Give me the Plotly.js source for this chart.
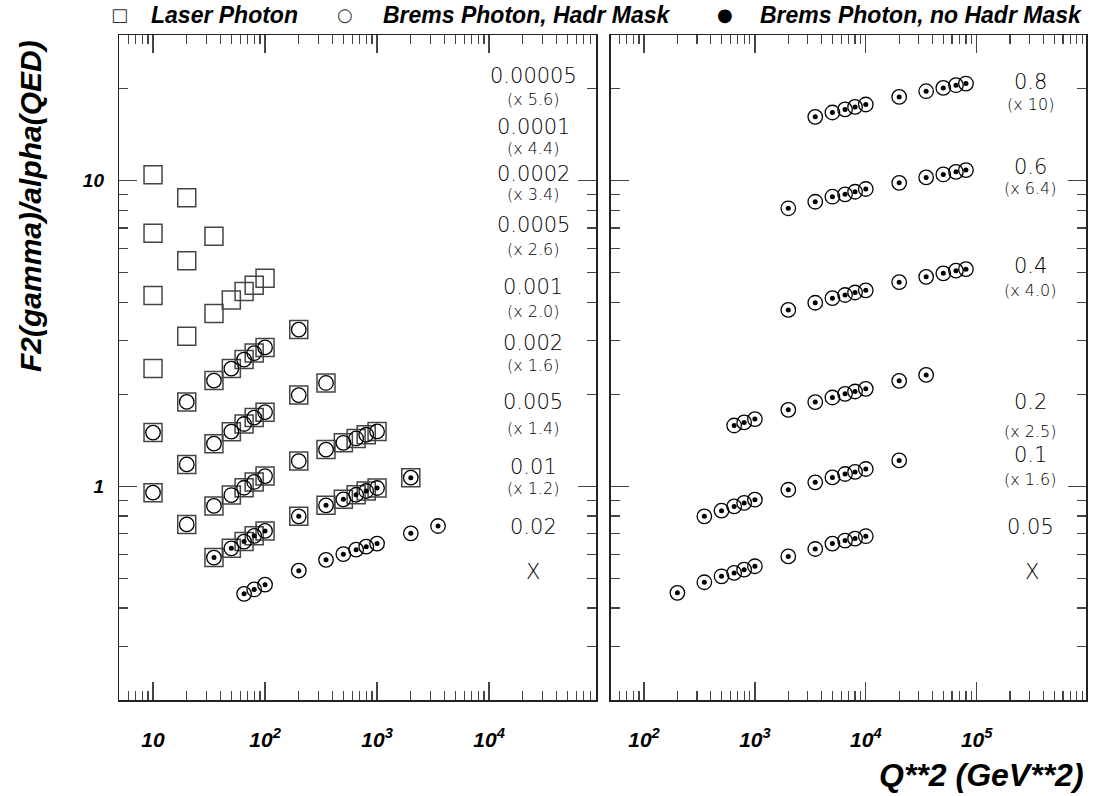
<!DOCTYPE html>
<html>
<head>
<meta charset="utf-8">
<script src="https://cdn.plot.ly/plotly-3.0.1.min.js"></script>
<style>html,body{margin:0;padding:0;background:#fff;}#plot{width:1093px;height:796px;}</style>
</head>
<body>
<div id="plot"></div>
<script>
// ---------------- DATA ----------------
// Left panel: x-bins (label), scale factor label, Q^2 values, F2/alpha values, point type
// type: 'L' laser only, 'LB' laser + brems (hadr mask), 'LN' laser + brems (no hadr mask), 'N' brems (no hadr mask) only
const leftLabels = ['0.00005','0.0001','0.0002','0.0005','0.001','0.002','0.005','0.01','0.02'];
const leftScales = ['(x 5.6)','(x 4.4)','(x 3.4)','(x 2.6)','(x 2.0)','(x 1.6)','(x 1.4)','(x 1.2)',''];

const q2_L1 = [10];
const f2_L1 = [10.46];
const ty_L1 = ['L'];

const q2_L2 = [10, 20];
const f2_L2 = [6.73, 8.80];
const ty_L2 = ['L','L'];

const q2_L3 = [10, 20, 35];
const f2_L3 = [4.21, 5.47, 6.58];
const ty_L3 = ['L','L','L'];

const q2_L4 = [10, 20, 35, 50, 65, 80, 100];
const f2_L4 = [2.43, 3.10, 3.68, 4.07, 4.34, 4.55, 4.80];
const ty_L4 = ['L','L','L','L','L','L','L'];

const q2_L5 = [10, 20, 35, 50, 65, 80, 100, 200];
const f2_L5 = [1.50, 1.89, 2.22, 2.43, 2.60, 2.73, 2.85, 3.26];
const ty_L5 = ['LB','LB','LB','LB','LB','LB','LB','LB'];

const q2_L6 = [10, 20, 35, 50, 65, 80, 100, 200, 350];
const f2_L6 = [0.954, 1.18, 1.38, 1.51, 1.60, 1.68, 1.75, 1.99, 2.18];
const ty_L6 = ['LB','LB','LB','LB','LB','LB','LB','LB','LB'];

const q2_L7 = [20, 35, 50, 65, 80, 100, 200, 350, 500, 650, 800, 1000];
const f2_L7 = [0.751, 0.863, 0.937, 0.990, 1.034, 1.081, 1.21, 1.32, 1.389, 1.435, 1.476, 1.513];
const ty_L7 = ['LB','LB','LB','LB','LB','LB','LB','LB','LB','LB','LB','LB'];

const q2_L8 = [35, 50, 65, 80, 100, 200, 350, 500, 650, 800, 1000, 2000];
const f2_L8 = [0.585, 0.627, 0.660, 0.689, 0.715, 0.798, 0.867, 0.907, 0.939, 0.966, 0.988, 1.068];
const ty_L8 = ['LN','LN','LN','LN','LN','LN','LN','LN','LN','LN','LN','LN'];

const q2_L9 = [65, 80, 100, 200, 350, 500, 650, 800, 1000, 2000, 3500];
const f2_L9 = [0.445, 0.460, 0.477, 0.530, 0.575, 0.600, 0.621, 0.635, 0.650, 0.702, 0.742];
const ty_L9 = ['N','N','N','N','N','N','N','N','N','N','N'];

// Right panel (brems photon, no hadr mask)
const rightLabels = ['0.8','0.6','0.4','0.2','0.1','0.05'];
const rightScales = ['(x 10)','(x 6.4)','(x 4.0)','(x 2.5)','(x 1.6)',''];

const q2_R1 = [3500, 5000, 6500, 8000, 10000, 20000, 35000, 50000, 65000, 80000];
const f2_R1 = [16.19, 16.73, 17.12, 17.45, 17.77, 18.82, 19.64, 20.14, 20.55, 20.81];

const q2_R2 = [2000, 3500, 5000, 6500, 8000, 10000, 20000, 35000, 50000, 65000, 80000];
const f2_R2 = [8.13, 8.54, 8.87, 9.03, 9.21, 9.40, 9.85, 10.26, 10.49, 10.70, 10.84];

const q2_R3 = [2000, 3500, 5000, 6500, 8000, 10000, 20000, 35000, 50000, 65000, 80000];
const f2_R3 = [3.78, 3.99, 4.13, 4.23, 4.31, 4.38, 4.66, 4.85, 4.98, 5.08, 5.14];

const q2_R4 = [650, 800, 1000, 2000, 3500, 5000, 6500, 8000, 10000, 20000, 35000];
const f2_R4 = [1.582, 1.619, 1.661, 1.781, 1.887, 1.954, 2.009, 2.044, 2.086, 2.215, 2.317];

const q2_R5 = [350, 500, 650, 800, 1000, 2000, 3500, 5000, 6500, 8000, 10000, 20000];
const f2_R5 = [0.798, 0.833, 0.860, 0.883, 0.905, 0.975, 1.031, 1.070, 1.098, 1.115, 1.140, 1.216];

const q2_R6 = [200, 350, 500, 650, 800, 1000, 2000, 3500, 5000, 6500, 8000, 10000];
const f2_R6 = [0.4484, 0.4856, 0.508, 0.521, 0.534, 0.548, 0.590, 0.624, 0.650, 0.665, 0.675, 0.687];

// Tick labels
const leftTickVals = [10, 100, 1000, 10000];
const leftTickText = ['10', '10<sup>2</sup>', '10<sup>3</sup>', '10<sup>4</sup>'];
const rightTickVals = [100, 1000, 10000, 100000];
const rightTickText = ['10<sup>2</sup>', '10<sup>3</sup>', '10<sup>4</sup>', '10<sup>5</sup>'];
const yTickVals = [1, 10];
const yTickText = ['1', '10'];

// ---------------- BUILD ----------------
const W = 1093, H = 796;
const leftSeries = [
  [q2_L1,f2_L1,ty_L1],[q2_L2,f2_L2,ty_L2],[q2_L3,f2_L3,ty_L3],[q2_L4,f2_L4,ty_L4],
  [q2_L5,f2_L5,ty_L5],[q2_L6,f2_L6,ty_L6],[q2_L7,f2_L7,ty_L7],[q2_L8,f2_L8,ty_L8],[q2_L9,f2_L9,ty_L9]
];
const rightSeries = [[q2_R1,f2_R1],[q2_R2,f2_R2],[q2_R3,f2_R3],[q2_R4,f2_R4],[q2_R5,f2_R5],[q2_R6,f2_R6]];

const sqMarker = {symbol:'square-open', size:18, color:'#444', line:{color:'#444', width:1.5}};
const ciMarker = {symbol:'circle-open', size:14.5, color:'#000', line:{color:'#000', width:1.3}};
const dotMarker = {symbol:'circle', size:5, color:'#000', line:{width:0}};

const lx=[], ly=[], bx=[], by=[], nx=[], ny=[];
leftSeries.forEach(([q,f,t]) => {
  q.forEach((v,i) => {
    if (t[i].includes('L')) { lx.push(v); ly.push(f[i]); }
    if (t[i].includes('B')) { bx.push(v); by.push(f[i]); }
    if (t[i].includes('N')) { nx.push(v); ny.push(f[i]); }
  });
});
const rx=[], ry=[];
rightSeries.forEach(([q,f]) => { q.forEach((v,i)=>{ rx.push(v); ry.push(f[i]); }); });

const traces = [
  {x:lx, y:ly, xaxis:'x', yaxis:'y', mode:'markers', type:'scatter', name:'Laser Photon', marker:sqMarker},
  {x:bx, y:by, xaxis:'x', yaxis:'y', mode:'markers', type:'scatter', name:'Brems Photon, Hadr Mask', marker:ciMarker},
  {x:nx, y:ny, xaxis:'x', yaxis:'y', mode:'markers', type:'scatter', name:'Brems Photon, no Hadr Mask (ring)', marker:ciMarker},
  {x:nx, y:ny, xaxis:'x', yaxis:'y', mode:'markers', type:'scatter', name:'Brems Photon, no Hadr Mask', marker:dotMarker},
  {x:rx, y:ry, xaxis:'x2', yaxis:'y2', mode:'markers', type:'scatter', name:'Brems Photon, no Hadr Mask (ring)', marker:ciMarker},
  {x:rx, y:ry, xaxis:'x2', yaxis:'y2', mode:'markers', type:'scatter', name:'Brems Photon, no Hadr Mask', marker:dotMarker}
];

// minor tick positions (2..9 x 10^k)
const minorVals = [];
for (let k=-1; k<=6; k++) for (let m=2; m<=9; m++) minorVals.push(m*Math.pow(10,k));

const tickFont = {family:'Liberation Sans, Arial, sans-serif', size:21, weight:'bold', style:'italic', color:'#000'};
function axisBase(extra) {
  return Object.assign({
    type:'log', showgrid:false, zeroline:false, showline:true, linecolor:'#222', linewidth:1.5,
    mirror:'ticks', ticks:'inside', ticklen:18, tickwidth:1.3, tickcolor:'#444', tickmode:'array',
    minor:{ticks:'inside', ticklen:9, tickwidth:1.3, tickcolor:'#444', tickmode:'array', tickvals:minorVals, showgrid:false},
    tickfont:tickFont, fixedrange:true
  }, extra);
}
const yDom = [1-700/H, 1-35/H];
const layout = {
  width:W, height:H, margin:{l:0,r:0,t:0,b:0}, paper_bgcolor:'#fff', plot_bgcolor:'#fff', showlegend:false,
  xaxis: axisBase({domain:[119.3/W, 596/W], range:[Math.log10(5), Math.log10(90000)], anchor:'y',
    tickvals:leftTickVals, ticktext:leftTickText, ticklabelstandoff:20}),
  yaxis: axisBase({domain:yDom, range:[Math.log10(0.2), Math.log10(30)], anchor:'x',
    tickvals:yTickVals, ticktext:yTickText, ticklabelstandoff:10, tickfont:Object.assign({}, tickFont, {size:19})}),
  xaxis2: axisBase({domain:[610.7/W, 1086/W], range:[1.6997, 5.9856], anchor:'y2',
    tickvals:rightTickVals, ticktext:rightTickText, ticklabelstandoff:20}),
  yaxis2: axisBase({domain:yDom, range:[Math.log10(0.2), Math.log10(30)], anchor:'x2',
    tickvals:yTickVals, ticktext:yTickText, showticklabels:false}),
  annotations: []
};

function ann(text, px, py, o) {
  layout.annotations.push(Object.assign({
    text:text, xref:'paper', yref:'paper', x:px/W, y:1-py/H, showarrow:false,
    xanchor:'center', yanchor:'middle'
  }, o));
}
const thinBig = {family:'DejaVu Sans, sans-serif', size:21, weight:200, color:'#000'};
const thinSmall = Object.assign({}, thinBig, {size:16});

// left panel labels
const leftLabelY = [76, 127, 174, 225, 287, 343, 402, 467, 527];
const leftScaleY = [99, 148, 194, 250, 312, 365, 428, 488, null];
leftLabels.forEach((t,i)=>{ ann(t, 533, leftLabelY[i], {font:thinBig}); if (leftScales[i]) ann(leftScales[i], 533, leftScaleY[i], {font:thinSmall}); });
ann('X', 533, 572, {font:thinBig});

// right panel labels
const rightLabelY = [82, 167, 266, 402, 455, 527];
const rightScaleY = [104, 188, 290, 431, 480, null];
rightLabels.forEach((t,i)=>{ ann(t, 1030, rightLabelY[i], {font:thinBig}); if (rightScales[i]) ann(rightScales[i], 1030, rightScaleY[i], {font:thinSmall}); });
ann('X', 1032, 572, {font:thinBig});

// legend row
const legFont = {family:'Liberation Sans, Arial, sans-serif', size:23, weight:'bold', style:'italic', color:'#000'};
const symFont = {family:'DejaVu Sans, sans-serif', size:18, color:'#333'};
ann('\u25A1', 119, 15, {font:symFont});
ann('Laser Photon', 149, 15, {font:legFont, xanchor:'left'});
ann('\u25CB', 345, 15, {font:symFont});
ann('Brems Photon, Hadr Mask', 381, 15, {font:legFont, xanchor:'left'});
ann('\u25CF', 725, 15, {font:Object.assign({}, symFont, {color:'#000'})});
ann('Brems Photon, no Hadr Mask', 1084, 15, {font:legFont, xanchor:'right'});

// axis titles
ann('F2(gamma)/alpha(QED)', 30, 38, {font:{family:'Liberation Sans, Arial, sans-serif', size:30, weight:'bold', style:'italic', color:'#000'}, textangle:-90, yanchor:'top'});
ann('Q**2 (GeV**2)', 1086, 775, {font:{family:'Liberation Sans, Arial, sans-serif', size:32, weight:'bold', style:'italic', color:'#000'}, xanchor:'right'});

Plotly.newPlot('plot', traces, layout, {staticPlot:true, displayModeBar:false});
</script>
</body>
</html>
